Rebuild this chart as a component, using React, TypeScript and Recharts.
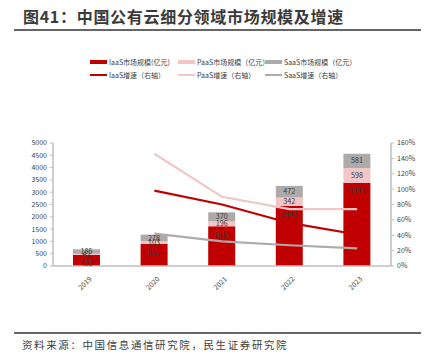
import { ComposedChart, Bar, Line, XAxis, YAxis, LabelList, Legend } from "recharts";

const years = ["2019", "2020", "2021", "2022", "2023"];
const iaasSize = [453, 895, 1615, 2442, 3383];
const paasSize = [42, 103, 196, 342, 598];
const saasSize = [185, 278, 370, 472, 581];
const iaasGrowth = [null, 98, 80, 56, 41];
const paasGrowth = [null, 146, 90, 74, 74];
const saasGrowth = [null, 42, 32, 27, 23];
const leftTicks = [0, 500, 1000, 1500, 2000, 2500, 3000, 3500, 4000, 4500, 5000];
const rightTicks = [0, 20, 40, 60, 80, 100, 120, 140, 160];

const data = years.map((year, i) => ({
  year,
  iaas: iaasSize[i],
  paas: paasSize[i],
  saas: saasSize[i],
  iaasG: iaasGrowth[i],
  paasG: paasGrowth[i],
  saasG: saasGrowth[i],
}));

const RED = "#C00000";
const PINK = "#F2C6C6";
const GREY = "#AEAAAA";
const AXIS = "#BFBFBF";
const FONT = '"Noto Sans CJK SC", "Noto Sans", sans-serif';

const legendItems = [
  { label: "IaaS市场规模(亿元)", color: RED, kind: "bar" },
  { label: "PaaS市场规模（亿元）", color: PINK, kind: "bar" },
  { label: "SaaS市场规模（亿元）", color: GREY, kind: "bar" },
  { label: "IaaS增速（右轴）", color: RED, kind: "line" },
  { label: "PaaS增速（右轴）", color: PINK, kind: "line" },
  { label: "SaaS增速（右轴）", color: GREY, kind: "line" },
];
const legendX = [90, 178, 265];

function LegendBox() {
  return (
    <div style={{ position: "relative", width: 434, height: 30 }}>
      {legendItems.map((item, i) => (
        <div
          key={item.label}
          style={{
            position: "absolute",
            left: legendX[i % 3],
            top: i < 3 ? 0 : 13,
            display: "flex",
            alignItems: "center",
            fontSize: 7,
            color: "#404040",
            whiteSpace: "nowrap",
            fontFamily: FONT,
          }}
        >
          <span
            style={{
              display: "inline-block",
              width: 17,
              height: item.kind === "bar" ? 4 : 2,
              background: item.color,
              marginRight: 2,
            }}
          />
          {item.label}
        </div>
      ))}
    </div>
  );
}

export default function App() {
  return (
    <div style={{ position: "relative", width: 434, height: 364, background: "#fff", fontFamily: FONT }}>
      <style>{"body{margin:0}"}</style>
      <div
        style={{
          position: "absolute",
          left: 23,
          top: 4,
          fontSize: 16,
          fontWeight: 700,
          color: "#3a3a3a",
          letterSpacing: 0.7,
          whiteSpace: "nowrap",
        }}
      >
        图41：中国公有云细分领域市场规模及增速
      </div>
      <div style={{ position: "absolute", left: 14, top: 29, width: 407, height: 2, background: "#666" }} />

      <div style={{ position: "absolute", left: 0, top: 0 }}>
        <ComposedChart
          width={434}
          height={310}
          data={data}
          margin={{ top: 113, right: 0, bottom: 0, left: 0 }}
          barSize={27}
        >
          <XAxis
            dataKey="year"
            height={44}
            axisLine={{ stroke: AXIS, strokeWidth: 1.5 }}
            tickLine={false}
            interval={0}
            tick={{ fontSize: 7, fill: "#404040", angle: -45, textAnchor: "end", dy: 2, dx: 2 } as any}
          />
          <XAxis
            xAxisId="b"
            type="number"
            domain={[0, 5]}
            ticks={[0, 1, 2, 3, 4, 5]}
            height={0}
            axisLine={false}
            tick={false}
            tickSize={3}
            tickLine={{ stroke: AXIS }}
          />
          <YAxis
            yAxisId="left"
            width={53}
            domain={[0, 5000]}
            ticks={leftTicks}
            interval={0}
            axisLine={{ stroke: AXIS, strokeWidth: 1.5 }}
            tickLine={{ stroke: AXIS }}
            tickSize={3}
            tickMargin={3}
            tick={{ fontSize: 7, fill: "#404040" }}
          />
          <YAxis
            yAxisId="right"
            orientation="right"
            width={43}
            domain={[0, 160]}
            ticks={rightTicks}
            interval={0}
            tickFormatter={(v: number) => `${v}%`}
            axisLine={{ stroke: AXIS, strokeWidth: 1.5 }}
            tickLine={{ stroke: AXIS }}
            tickSize={3}
            tickMargin={3}
            tick={{ fontSize: 7, fill: "#404040" }}
          />
          <Legend
            verticalAlign="top"
            wrapperStyle={{ top: 57, left: 0, width: 434 }}
            content={() => <LegendBox />}
          />
          <Bar dataKey="iaas" yAxisId="left" stackId="s" fill={RED} isAnimationActive={false}>
            <LabelList dataKey="iaas" position="insideTop" offset={6} style={{ fontSize: 7.2, fill: "#3a3a3a" }} />
          </Bar>
          <Bar dataKey="paas" yAxisId="left" stackId="s" fill={PINK} isAnimationActive={false}>
            <LabelList dataKey="paas" position="center" style={{ fontSize: 7.2, fill: "#3a3a3a" }} />
          </Bar>
          <Bar dataKey="saas" yAxisId="left" stackId="s" fill={GREY} isAnimationActive={false}>
            <LabelList dataKey="saas" position="center" style={{ fontSize: 7.2, fill: "#3a3a3a" }} />
          </Bar>
          <Line dataKey="iaasG" yAxisId="right" stroke={RED} strokeWidth={2.2} dot={false} isAnimationActive={false} />
          <Line dataKey="paasG" yAxisId="right" stroke={PINK} strokeWidth={2.2} dot={false} isAnimationActive={false} />
          <Line dataKey="saasG" yAxisId="right" stroke={GREY} strokeWidth={2.2} dot={false} isAnimationActive={false} />
        </ComposedChart>
      </div>

      <div style={{ position: "absolute", left: 14, top: 332, width: 407, height: 2, background: "#666" }} />
      <div
        style={{
          position: "absolute",
          left: 22,
          top: 337,
          fontSize: 10.5,
          letterSpacing: 1.6,
          color: "#404040",
          whiteSpace: "nowrap",
        }}
      >
        资料来源：中国信息通信研究院，民生证券研究院
      </div>
    </div>
  );
}
